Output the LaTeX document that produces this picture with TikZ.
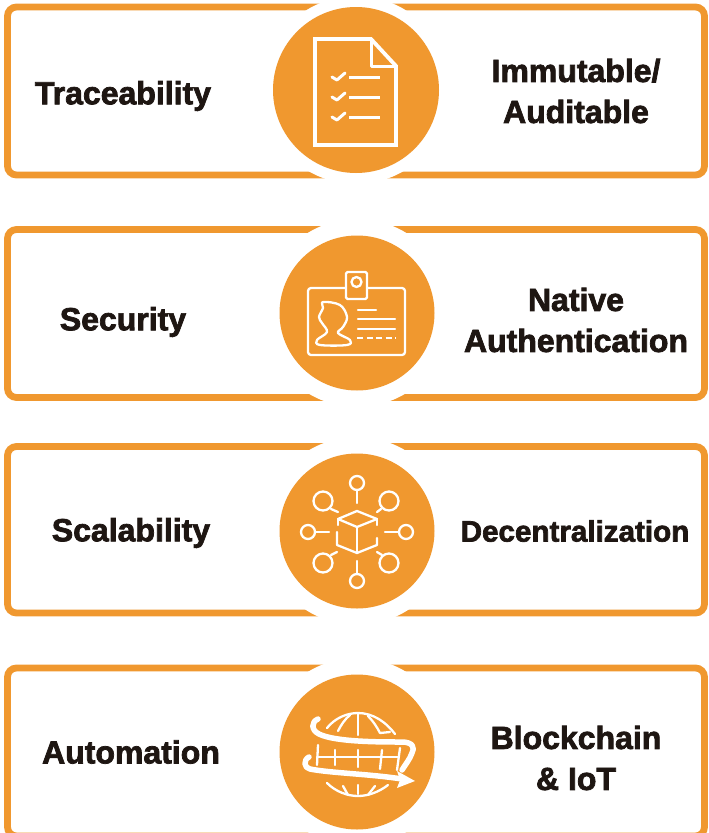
\documentclass[tikz,border=0pt]{standalone}
\usepackage{fontspec}
\setmainfont[BoldFeatures={FakeBold=2.3}]{Liberation Sans}
\definecolor{org}{HTML}{F0982F}
\definecolor{ink}{HTML}{1E1612}
\tikzset{
 x=1pt,y=-1pt,
 panel/.style={draw=org,line width=6.8pt,rounded corners=9pt,fill=white},
 halo/.style={circle,fill=white,draw=none,inner sep=0pt},
 disc/.style={circle,fill=org,draw=none,inner sep=0pt},
 lab/.style={font=\fontsize{32}{41}\selectfont\bfseries,text=ink,align=center,inner sep=0pt},
 ico/.style={draw=white,line width=3pt,line cap=round,line join=round},
 icot/.style={draw=white,line width=2.3pt,line cap=round,line join=round},
 band/.style={draw=white,line width=5.5pt,line cap=round,line join=round},
}
\begin{document}
\begin{tikzpicture}
\useasboundingbox (0,0) rectangle (709,833);
% panels
\draw[panel] (7.5,7) rectangle (704.5,175);
\draw[panel] (7.5,229.5) rectangle (704.5,397.5);
\draw[panel] (7.5,446.5) rectangle (704.5,613);
\draw[panel] (7.5,668) rectangle (704.5,836);
% discs
\node[halo,minimum size=188pt] (h1) at (356,90) {};
\node[disc,minimum size=166pt] (d1) at (356,90) {};
\node[halo,minimum size=188pt] (h2) at (357,313) {};
\node[disc,minimum size=155pt] (d2) at (357,313) {};
\node[halo,minimum size=188pt] (h3) at (357,531) {};
\node[disc,minimum size=155pt] (d3) at (357,531) {};
\node[halo,minimum size=188pt] (h4) at (357,752) {};
\node[disc,minimum size=155pt] (d4) at (357,752) {};
% labels
\node[lab] (t1) at (123,96) {Traceability};
\node[lab] (t2) at (576,91) {Immutable/\\Auditable};
\node[lab] (t3) at (123,322) {Security};
\node[lab] (t4) at (576,320) {Native\\Authentication};
\node[lab] (t5) at (131,533) {Scalability};
\node[lab,font=\fontsize{29.6}{41}\selectfont\bfseries] (t6) at (575,531) {Decentralization};
\node[lab] (t7) at (131,752) {Automation};
\node[lab] (t8) at (576,758) {Blockchain\\\&\ IoT};
% icon 1: document
\draw[ico,line width=3.8pt,line cap=butt,line join=miter] (315,39) -- (371,39) -- (396,66) -- (396,145) -- (315,145) -- cycle;
\draw[ico,line width=3pt,line cap=butt] (371,39) -- (371,66) -- (396,66);
\foreach \yy in {76,96,116}{
 \draw[ico] (332,\yy+1) -- (337,\yy+4) -- (345,\yy-3);
 \draw[ico,line cap=butt] (349,\yy+1) -- (380,\yy+1);
}
% icon 2: badge
\draw[icot,rounded corners=3pt] (308,288) rectangle (405,355);
\draw[icot,fill=org,rounded corners=1.5pt] (346,272) rectangle (367,299);
\draw[icot] (356.5,282) circle (5pt);
\draw[icot] plot[smooth cycle,tension=0.6] coordinates {(323,302) (340,305) (347,317) (343,327) (338,333) (350,340) (347,345) (320,345) (317,340) (327,332) (322,323) (319,317) (323,308)};
\draw[icot] (358,310) -- (376,310);
\draw[icot] (358,319) -- (395,319);
\draw[icot] (358,329) -- (395,329);
\draw[icot,line cap=butt,dash pattern=on 6pt off 3.5pt] (357,338) -- (396,338);
% icon 3: network cube
\draw[icot] (338,519) -- (357,511) -- (377,519) -- (357,527) -- cycle;
\draw[icot] (357,527) -- (357,553);
\draw[icot] (338,519) -- (338,525);
\draw[icot] (377,519) -- (377,525);
\draw[icot] (337,532) -- (337,545) -- (357,553) -- (377,545) -- (377,538);
\foreach \cx/\cy/\r in {357/483/7,357/581/7,308/532/7,406/532/7,323/501/9.5,389/501/9.5,323/563/9.5,389/563/9.5}{
 \draw[icot] (\cx,\cy) circle (\r pt);
}
\draw[icot] (357,490) -- (357,503);
\draw[icot] (357,561) -- (357,574);
\draw[icot] (315,532) -- (329,532);
\draw[icot] (385,532) -- (399,532);
\draw[icot] (331,509) -- (338,512);
\draw[icot] (381,509) -- (377,512);
\draw[icot] (331,555) -- (337,552);
\draw[icot] (382,555) -- (377,552);
% icon 4: globe
\draw[icot] (327,728) .. controls (335,718) and (347,713) .. (358,713) .. controls (373,713) and (386,722) .. (395,734);
\draw[icot] (338,731) .. controls (341,725) and (345,719) .. (350,715);
\draw[icot] (358,714) -- (358,735);
\draw[icot] (368,716) .. controls (373,721) and (377,727) .. (380,733) -- (390,732);
\draw[icot] (317,757) -- (398,757);
\draw[icot] (318,745) -- (317,765);
\draw[icot] (335,750) -- (335,765);
\draw[icot] (358,750) -- (358,767);
\draw[icot] (382,750) -- (380,769);
\draw[icot] (400,748) -- (397,770);
\draw[icot] (327,783) .. controls (336,792) and (348,796) .. (358,796) .. controls (368,796) and (379,792) .. (388,785);
\draw[icot] (343,786) -- (348,795);
\draw[icot] (358,785) -- (358,794);
\draw[icot] (375,786) -- (368,795);
\draw[band] (318,719) .. controls (311,722) and (311,730) .. (319,734) .. controls (335,742) and (380,742) .. (402,742) .. controls (413,742) and (415,748) .. (412,753) .. controls (410,759) and (405,765) .. (402,770);
\draw[band] (309,757) .. controls (303,760) and (304,768) .. (310,769) .. controls (330,773) and (370,774) .. (402,779);
\fill[white] (415,781) -- (397,771) -- (400,780) -- (397,788) -- cycle;
\end{tikzpicture}
\end{document}
